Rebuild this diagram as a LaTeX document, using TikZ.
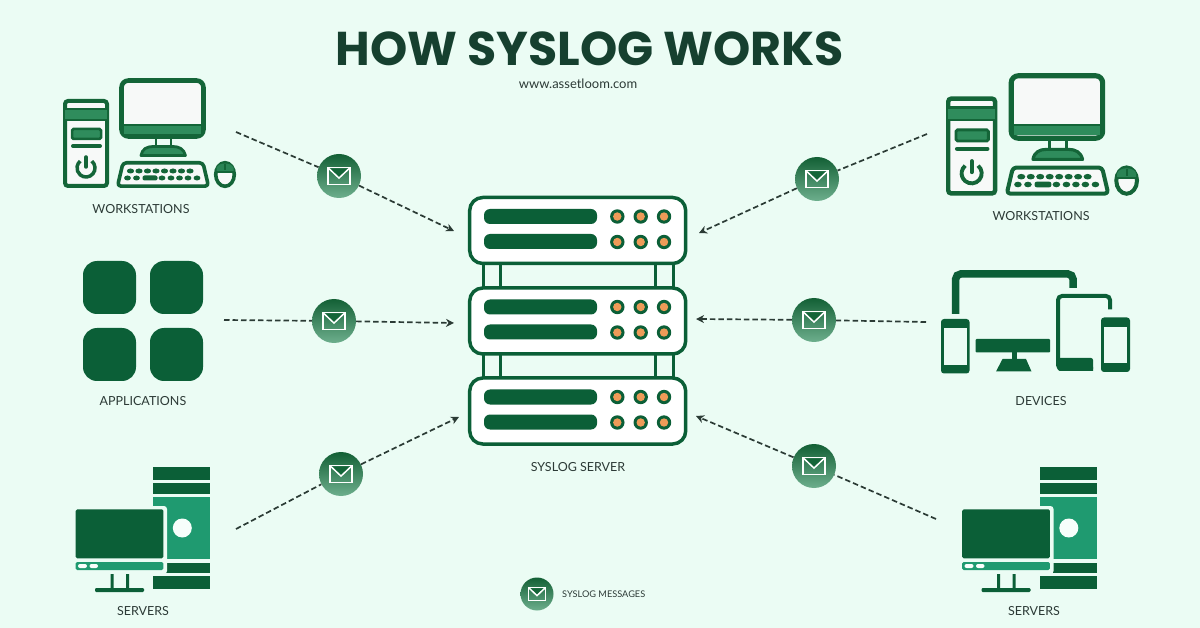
\documentclass[tikz,border=0pt]{standalone}
\usepackage{fontspec}
\setmainfont{Lato}
\newfontfamily\titlefont{Poppins}[BoldFont={Poppins Bold}]
\usetikzlibrary{arrows.meta}
\definecolor{bgc}{HTML}{EBFCF4}
\definecolor{dkg}{HTML}{0B5F37}
\definecolor{wsg}{HTML}{146538}
\definecolor{midg}{HTML}{2F8C5C}
\definecolor{teal}{HTML}{1F9A70}
\definecolor{scr}{HTML}{F7F9F8}
\definecolor{orng}{HTML}{EE9B58}
\definecolor{ttl}{HTML}{16402F}
\definecolor{txt}{HTML}{2C3A36}
\definecolor{flowc}{HTML}{2B3B35}
\tikzset{
  lbl/.style={text=txt,font=\fontsize{12.5}{14}\selectfont,inner sep=0pt},
  flow/.style={draw=flowc,line width=1.7pt,dash pattern=on 5.5pt off 3pt},
  flowtip/.style={flow,-{Stealth[length=8pt,width=8pt,inset=2.5pt]}},
  mailc/.style={circle,inner sep=0pt,minimum size=#1,top color=wsg!95!black,bottom color=midg!70!white,draw=none},
  pane/.style={draw=dkg,line width=3.5pt,fill=white,rounded corners=13pt},
  rackpost/.style={draw=dkg,line width=3pt},
}
% envelope on a mail node
\newcommand\envelope[2]{%
  \draw[white,line width=1.7pt,line join=miter] ([shift={(-10.5*#2,-8*#2)}]#1.center) rectangle ([shift={(10.5*#2,8*#2)}]#1.center);
  \fill[wsg] ([shift={(-9.5*#2,-7*#2)}]#1.center) -- ([shift={(9.5*#2,-7*#2)}]#1.center) -- ([shift={(0,1*#2)}]#1.center) -- cycle;
  \draw[white,line width=1.5pt] ([shift={(-10*#2,-7.5*#2)}]#1.center) -- ([shift={(0,2*#2)}]#1.center) -- ([shift={(10*#2,-7.5*#2)}]#1.center);
}
\newcommand\mailnode[3]{%
  \node[mailc=44pt] (#1) at (#2,#3) {};
  \envelope{#1}{1.05}
}
% workstation, drawn in its left-hand position; #1 = scale
\newcommand\workstation[1]{%
  \def\wss{#1}%
  % tower
  \draw[wsg,fill=scr,line width=4pt*\wss,rounded corners=3pt] (65,101) rectangle (107,186);
  \fill[midg] (65,108) rectangle (107,120);
  \draw[wsg,line width=2.2pt*\wss] (65,109) -- (107,109) (65,120) -- (107,120);
  \draw[wsg,fill=midg,line width=2.5pt*\wss,rounded corners=1.5pt] (72,129) rectangle (101,139);
  \draw[wsg,line width=4pt*\wss,line cap=round] (73,146) -- (100,146);
  \draw[wsg,line width=3.5pt*\wss] (91.8,161.1) arc[start angle=-50,end angle=230,radius=9];
  \draw[wsg,line width=3.5pt*\wss,line cap=round] (86,157) -- (86,167);
  % monitor
  \draw[wsg,fill=scr,line width=4.6pt*\wss,rounded corners=7pt] (121.5,80.5) rectangle (203.5,136.5);
  \fill[midg] (124,125) rectangle (201,134);
  \draw[wsg,line width=1.8pt*\wss] (123.5,125) -- (201.5,125);
  \draw[wsg,line width=2.5pt*\wss] (156,138) -- (156,147) (171,138) -- (171,147);
  \filldraw[draw=wsg,fill=midg,line width=2.8pt*\wss,line join=round] (141,155.5) .. controls (142,149) and (147,146.5) .. (153,146.5) -- (173,146.5) .. controls (179,146.5) and (184,149) .. (185.5,155.5) -- cycle;
  % keyboard
  \draw[wsg,fill=scr,line width=3.6pt*\wss,line join=round,rounded corners=3.5pt] (123,162.8) -- (203,162.8) -- (208.5,186.2) -- (117.5,186.2) -- cycle;
  \foreach \k in {130.5,139,147.5,156,164.5,173,181.5,190}
    \fill[wsg] (\k,171) ellipse[x radius=3.6,y radius=2.5];
  \foreach \k in {127.5,136.5,162,171,179.5,188,197}
    \fill[wsg] (\k,178) ellipse[x radius=3.4,y radius=2.5];
  \fill[wsg,rounded corners=2pt] (142.5,175.5) rectangle (157.5,180.5);
  % mouse
  \draw[wsg,fill=scr,line width=3.6pt*\wss] (225,174.5) ellipse[x radius=9.3,y radius=11.8];
  \fill[midg!80!wsg] (216.5,168) .. controls (217.5,165) and (221,163.5) .. (225,163.5) .. controls (229,163.5) and (232.5,165) .. (233.5,168) -- (233.5,171.5) -- (216.5,171.5) -- cycle;
  \draw[wsg,line width=2pt*\wss] (216,172) -- (234,172) (225,164) -- (225,170);
}
% server icon, left-hand position
\newcommand\servericon{%
  \fill[dkg] (153,467) rectangle (210,479.5);
  \fill[dkg] (153,483) rectangle (210,493.5);
  \fill[teal] (153,497) rectangle (210,559);
  \fill[dkg] (153,563) rectangle (210,573);
  \fill[dkg] (153,576) rectangle (210,588.5);
  \fill[white!60!bgc] (182.3,528) circle (9.5);
  \fill[bgc,rounded corners=3pt] (72,506) rectangle (167,574);
  \fill[dkg,rounded corners=1.5pt] (75.7,509.3) rectangle (163.3,558.3);
  \fill[teal,rounded corners=1.5pt] (75.7,562) rectangle (163.3,570);
  \fill[white!70!bgc,rounded corners=2pt] (78,564) rectangle (87,568);
  \fill[white!70!bgc,rounded corners=2pt] (89.5,564) rectangle (98,568);
  \fill[dkg] (110.7,574) rectangle (113.7,589) (126,574) rectangle (129,589);
  \fill[dkg,rounded corners=1.2pt] (95,588) rectangle (144,592);
}
% rack unit, #1 = top y, #2 = name
\newcommand\rackunit[2]{%
  \node[pane,minimum width=216pt,minimum height=66pt,inner sep=0pt] (#2) at (577.7,#1+34.5) {};
  \fill[dkg,rounded corners=6pt] (484,#1+13) rectangle (597,#1+28);
  \fill[dkg,rounded corners=6pt] (484,#1+38) rectangle (597,#1+53);
  \foreach \cx in {617.3,640.7,664} \foreach \cy in {20.5,46} {
    \fill[dkg] (\cx,#1+\cy) circle (7.2);
    \fill[orng] (\cx,#1+\cy) circle (4.2);
  }
}
\begin{document}
\begin{tikzpicture}[x=1pt,y=-1pt]
\useasboundingbox (0,0) rectangle (1200,628);
\fill[bgc] (0,0) rectangle (1200,628);

% title
\node[text=ttl,inner sep=0pt,anchor=base,text height=34pt,text depth=0pt,font=\titlefont\bfseries\fontsize{47.4}{52}\selectfont] (title) at (590,66) {HOW SYSLOG WORKS};
\node[text=txt,inner sep=0pt,font=\fontsize{13}{15}\selectfont] (site) at (578,84) {www.assetloom.com};

% rack posts
\draw[rackpost] (483,262) -- (483,290) (500,262) -- (500,290) (655,262) -- (655,290) (673,262) -- (673,290);
\draw[rackpost] (483,352) -- (483,380) (500,352) -- (500,380) (655,352) -- (655,380) (673,352) -- (673,380);
\rackunit{196}{rackA}
\rackunit{286.5}{rackB}
\rackunit{376.5}{rackC}
\node[lbl] (rackl) at (578,467) {SYSLOG SERVER};

% icons
\workstation{1}
\begin{scope}[shift={(946,73)},scale=1.115,shift={(-63,-78)}]
  \workstation{1.115}
\end{scope}
\node[lbl] (wsl) at (141,209) {WORKSTATIONS};
\node[lbl] (wsr) at (1041,216) {WORKSTATIONS};

\foreach \ax/\ay in {83/261,150/261,83/328,150/328}
  \fill[dkg,rounded corners=14pt] (\ax,\ay) rectangle +(53,53);
\node[lbl] (appl) at (143,401) {APPLICATIONS};

\servericon
\begin{scope}[shift={(886.5,0)}]
  \servericon
\end{scope}
\node[lbl] (srvl) at (143,611) {SERVERS};
\node[lbl] (srvr) at (1034,611) {SERVERS};

% devices
\draw[draw=dkg,line width=7.5pt,rounded corners=5pt] (955.7,314) -- (955.7,274) -- (1073,274) -- (1073,288);
\fill[dkg,rounded corners=3pt] (941,319) rectangle (969.5,373.5);
\fill[bgc] (943.5,328.5) rectangle (967,365);
\fill[dkg,rounded corners=1pt] (975.5,339) rectangle (1050,352.5);
\fill[dkg] (1012,352) rectangle (1017,360);
\fill[dkg] (1002.5,359) -- (1026,359) -- (1031.5,371.5) -- (996,371.5) -- cycle;
\draw[draw=dkg,line width=4pt,rounded corners=4pt] (1093,369) -- (1058,369) -- (1058,296) -- (1110,296) -- (1110,309.5);
\fill[dkg,rounded corners=2pt] (1058,358) rectangle (1093,371);
\fill[dkg,rounded corners=3pt] (1101,317.5) rectangle (1130,372);
\fill[bgc] (1104,327) rectangle (1127,363);
\node[lbl] (devl) at (1041,401) {DEVICES};

% connectors
\coordinate (a1) at (236,132);
\coordinate (a2) at (224,320);
\coordinate (a3) at (236,529);
\coordinate (b1) at (927,134);
\coordinate (b2) at (926,322);
\coordinate (b3) at (936,519);
\coordinate (ta1) at (454,231);
\coordinate (ta2) at (454,323);
\coordinate (ta3) at (459,417);
\coordinate (tb1) at (699,233);
\coordinate (tb2) at (696,319);
\coordinate (tb3) at (696,416);
\mailnode{ma}{339}{176}
\mailnode{mb}{334}{321}
\mailnode{mc}{341}{474}
\mailnode{md}{817}{179}
\mailnode{me}{814}{320}
\mailnode{mf}{814}{466}
\draw[flow] (a1) -- (ma);
\draw[flowtip] (ma) -- (ta1);
\draw[flow] (a2) -- (mb);
\draw[flowtip] (mb) -- (ta2);
\draw[flow] (a3) -- (mc);
\draw[flowtip] (mc) -- (ta3);
\draw[flow] (b1) -- (md);
\draw[flowtip] (md) -- (tb1);
\draw[flow] (b2) -- (me);
\draw[flowtip] (me) -- (tb2);
\draw[flow] (b3) -- (mf);
\draw[flowtip] (mf) -- (tb3);

% legend
\node[mailc=33pt] (leg) at (537,594) {};
\envelope{leg}{0.8}
\node[lbl,anchor=west,font=\fontsize{9.2}{11}\selectfont] (legt) at (562,594) {SYSLOG MESSAGES};
\end{tikzpicture}
\end{document}
